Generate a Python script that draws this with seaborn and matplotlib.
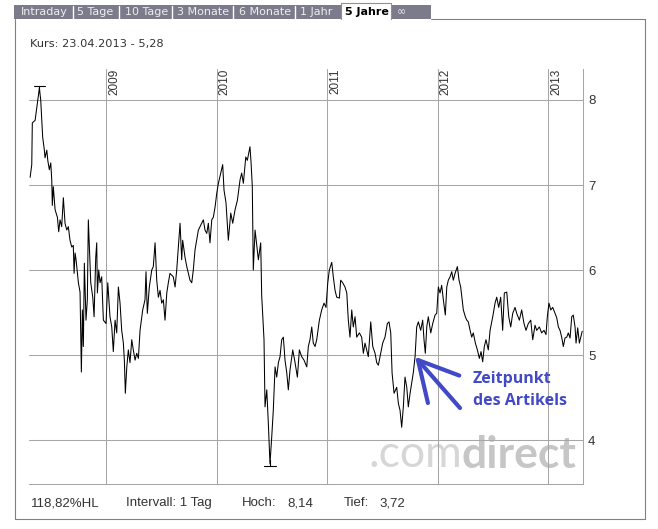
import numpy as np
import pandas as pd
import matplotlib
matplotlib.use('Agg')
import matplotlib.pyplot as plt
import matplotlib.transforms as mtransforms
import seaborn as sns
from matplotlib.lines import Line2D
from matplotlib.patches import Rectangle

# -----------------------------------------------------------
# Kursdaten (Zeit als Dezimaljahr, Kurs in EUR)
zeit = [
    2008.310, 2008.325, 2008.330, 2008.355, 2008.376, 2008.394, 2008.406, 2008.415, 2008.424, 2008.439,
    2008.445, 2008.461, 2008.470, 2008.484, 2008.497, 2008.506, 2008.511, 2008.520, 2008.536, 2008.557,
    2008.569, 2008.581, 2008.596, 2008.611, 2008.626, 2008.642, 2008.656, 2008.671, 2008.687, 2008.701,
    2008.708, 2008.717, 2008.726, 2008.747, 2008.762, 2008.774, 2008.783, 2008.792, 2008.801, 2008.816,
    2008.828, 2008.837, 2008.859, 2008.877, 2008.889, 2008.904, 2008.913, 2008.919, 2008.931, 2008.943,
    2008.958, 2008.973, 2008.997, 2009.013, 2009.033, 2009.049, 2009.063, 2009.079, 2009.094, 2009.109,
    2009.124, 2009.139, 2009.154, 2009.163, 2009.172, 2009.185, 2009.199, 2009.214, 2009.230, 2009.244,
    2009.260, 2009.275, 2009.290, 2009.305, 2009.329, 2009.350, 2009.359, 2009.371, 2009.389, 2009.411,
    2009.425, 2009.441, 2009.456, 2009.471, 2009.486, 2009.501, 2009.516, 2009.531, 2009.547, 2009.561,
    2009.576, 2009.606, 2009.622, 2009.637, 2009.667, 2009.682, 2009.691, 2009.712, 2009.728, 2009.757,
    2009.773, 2009.787, 2009.803, 2009.833, 2009.863, 2009.878, 2009.893, 2009.909, 2009.923, 2009.938,
    2009.954, 2009.968, 2009.984, 2009.999, 2010.014, 2010.035, 2010.053, 2010.065, 2010.083, 2010.104,
    2010.126, 2010.144, 2010.165, 2010.186, 2010.210, 2010.225, 2010.240, 2010.262, 2010.276, 2010.300,
    2010.310, 2010.321, 2010.330, 2010.346, 2010.376, 2010.397, 2010.406, 2010.421, 2010.427, 2010.436,
    2010.452, 2010.466, 2010.481, 2010.497, 2010.511, 2010.527, 2010.542, 2010.557, 2010.572, 2010.587,
    2010.602, 2010.617, 2010.633, 2010.647, 2010.662, 2010.687, 2010.708, 2010.729, 2010.747, 2010.768,
    2010.789, 2010.814, 2010.828, 2010.843, 2010.859, 2010.873, 2010.889, 2010.904, 2010.928, 2010.949,
    2010.970, 2010.988, 2011.004, 2011.018, 2011.040, 2011.054, 2011.070, 2011.085, 2011.109, 2011.121,
    2011.139, 2011.160, 2011.176, 2011.190, 2011.205, 2011.221, 2011.235, 2011.251, 2011.266, 2011.290,
    2011.311, 2011.326, 2011.341, 2011.371, 2011.393, 2011.411, 2011.432, 2011.447, 2011.462, 2011.477,
    2011.501, 2011.522, 2011.543, 2011.558, 2011.574, 2011.586, 2011.604, 2011.628, 2011.643, 2011.658,
    2011.673, 2011.688, 2011.703, 2011.719, 2011.733, 2011.749, 2011.764, 2011.778, 2011.794, 2011.809,
    2011.824, 2011.845, 2011.863, 2011.875, 2011.887, 2011.900, 2011.914, 2011.936, 2011.954, 2011.975,
    2011.990, 2012.005, 2012.020, 2012.035, 2012.050, 2012.068, 2012.081, 2012.095, 2012.111, 2012.126,
    2012.140, 2012.156, 2012.177, 2012.192, 2012.207, 2012.231, 2012.249, 2012.262, 2012.276, 2012.292,
    2012.307, 2012.321, 2012.340, 2012.358, 2012.376, 2012.391, 2012.406, 2012.421, 2012.436, 2012.457,
    2012.473, 2012.497, 2012.518, 2012.533, 2012.551, 2012.569, 2012.587, 2012.602, 2012.624, 2012.642,
    2012.660, 2012.678, 2012.699, 2012.714, 2012.738, 2012.759, 2012.780, 2012.798, 2012.819, 2012.841,
    2012.859, 2012.880, 2012.895, 2012.919, 2012.940, 2012.961, 2012.979, 2012.991, 2013.006, 2013.022,
    2013.040, 2013.061, 2013.076, 2013.091, 2013.106, 2013.121, 2013.136, 2013.151, 2013.167, 2013.181,
    2013.197, 2013.212, 2013.226, 2013.242, 2013.251, 2013.266, 2013.281, 2013.307,
]

kurs = [
    7.09, 7.24, 7.73, 7.76, 7.96, 8.14, 8.00, 7.79, 7.56, 7.41,
    7.32, 7.41, 7.29, 7.18, 7.26, 7.06, 6.76, 6.98, 6.71, 6.62,
    6.45, 6.59, 6.51, 6.85, 6.55, 6.47, 6.51, 6.35, 6.27, 6.29,
    5.96, 6.20, 6.12, 5.85, 5.74, 4.80, 5.53, 5.10, 6.08, 5.41,
    5.65, 6.59, 5.85, 5.68, 5.45, 6.15, 6.32, 5.73, 6.00, 5.85,
    5.92, 5.41, 5.37, 5.85, 5.45, 5.33, 5.04, 5.41, 5.26, 5.80,
    5.61, 5.29, 5.14, 4.94, 4.55, 4.86, 5.06, 4.91, 5.18, 5.06,
    4.94, 5.02, 4.96, 5.29, 5.53, 5.65, 5.98, 5.49, 5.80, 6.00,
    6.04, 6.32, 5.88, 5.68, 5.76, 5.61, 5.65, 5.41, 5.73, 5.85,
    5.96, 5.92, 5.80, 6.00, 6.55, 6.12, 6.35, 6.15, 6.04, 5.88,
    5.85, 6.00, 6.24, 6.47, 6.55, 6.59, 6.47, 6.43, 6.55, 6.32,
    6.59, 6.62, 6.74, 6.90, 7.02, 7.14, 7.24, 6.94, 6.79, 6.35,
    6.67, 6.55, 6.71, 6.82, 7.06, 7.14, 7.02, 7.33, 7.29, 7.45,
    7.26, 6.98, 6.00, 6.47, 6.12, 6.32, 5.70, 5.33, 5.18, 4.39,
    4.59, 4.20, 3.72, 4.04, 4.35, 4.86, 4.74, 4.91, 4.98, 5.18,
    5.21, 4.94, 4.79, 4.59, 4.82, 5.06, 4.91, 4.74, 5.06, 4.98,
    4.94, 4.86, 5.10, 5.18, 5.33, 5.14, 5.10, 5.18, 5.41, 5.53,
    5.61, 5.56, 5.85, 6.00, 6.09, 5.92, 5.76, 5.68, 5.67, 5.88,
    5.85, 5.80, 5.73, 5.41, 5.21, 5.53, 5.33, 5.45, 5.21, 5.26,
    5.21, 5.02, 5.14, 4.98, 5.39, 5.10, 5.02, 4.91, 4.88, 4.98,
    5.14, 5.21, 5.37, 5.39, 5.26, 4.79, 4.55, 4.62, 4.43, 4.35,
    4.15, 4.39, 4.74, 4.62, 4.39, 4.55, 4.67, 4.79, 4.98, 5.33,
    5.39, 5.29, 5.41, 5.18, 5.02, 5.33, 5.45, 5.26, 5.37, 5.47,
    5.49, 5.80, 5.73, 5.82, 5.65, 5.47, 5.80, 5.88, 5.92, 5.98,
    5.88, 5.96, 6.04, 5.88, 5.80, 5.53, 5.45, 5.41, 5.39, 5.29,
    5.21, 5.26, 5.14, 5.06, 4.96, 5.04, 4.92, 5.10, 5.18, 5.06,
    5.29, 5.45, 5.61, 5.68, 5.56, 5.68, 5.29, 5.73, 5.74, 5.45,
    5.33, 5.49, 5.56, 5.49, 5.41, 5.53, 5.37, 5.29, 5.37, 5.41,
    5.18, 5.35, 5.29, 5.33, 5.26, 5.29, 5.24, 5.45, 5.61, 5.53,
    5.56, 5.49, 5.44, 5.33, 5.29, 5.21, 5.10, 5.20, 5.21, 5.26,
    5.20, 5.45, 5.47, 5.33, 5.14, 5.32, 5.14, 5.28,
]

jahre = [2009, 2010, 2011, 2012, 2013]
kurs_ticks = [4, 5, 6, 7, 8]
tabs = ['Intraday', '5 Tage', '10 Tage', '3 Monate', '6 Monate', '1 Jahr', '5 Jahre', '\u221e']
aktiver_tab = '5 Jahre'
datum_letzter_kurs = '23.04.2013'
artikel_datum = 2011.794
# -----------------------------------------------------------

W, H = 658, 529
grau = '#a6a6a6'
blau = '#4149c6'
text_farbe = '#333333'


def fx(x):
    return x / W


def fy(y):
    return 1 - y / H


def de(v):
    return f'{v:.2f}'.replace('.', ',')


df = pd.DataFrame({'Zeit': zeit, 'Kurs': kurs})

sns.set_style('white')
plt.rcParams['font.family'] = ['Liberation Sans', 'DejaVu Sans']

fig = plt.figure(figsize=(W / 100, H / 100), dpi=100)
ax = fig.add_axes([fx(29), fy(484), fx(583) - fx(29), fy(69) - fy(484)])

sns.lineplot(data=df, x='Zeit', y='Kurs', ax=ax, color='black', linewidth=0.75,
             errorbar=None, zorder=3)

ax.set_xlim(2008.300, 2013.314)
ax.set_ylim(3.4824, 8.3647)
ax.set_xticks(jahre)
ax.set_yticks(kurs_ticks)
ax.set_yticklabels([str(t) for t in kurs_ticks])
ax.grid(True, color=grau, linewidth=0.75)
ax.set_axisbelow('line')
ax.set_xlabel('')
ax.set_ylabel('')
ax.yaxis.tick_right()
ax.tick_params(axis='x', length=0, labelbottom=False)
ax.tick_params(axis='y', length=0, pad=3.6, labelsize=9.5, labelcolor=text_farbe)
for s in ['left', 'top']:
    ax.spines[s].set_visible(False)
for s in ['right', 'bottom']:
    ax.spines[s].set_color(grau)
    ax.spines[s].set_linewidth(0.75)

# Jahreszahlen oben an den Gitterlinien
trans = mtransforms.blended_transform_factory(ax.transData, ax.transAxes)
trans = mtransforms.offset_copy(trans, fig=fig, x=2, y=0, units='dots')
for j in jahre:
    ax.text(j, 1, str(j), transform=trans, rotation=90, ha='left', va='top',
            fontsize=8.5, color=text_farbe)

# Hoch / Tief Markierungen
i_max, i_min = df['Kurs'].idxmax(), df['Kurs'].idxmin()
t_hoch, k_hoch = df['Zeit'][i_max], df['Kurs'][i_max]
t_tief, k_tief = df['Zeit'][i_min], df['Kurs'][i_min]
ax.plot([t_hoch - 0.05, t_hoch + 0.05], [k_hoch + 0.02, k_hoch + 0.02], color='black', lw=0.8)
ax.plot([t_hoch, t_hoch], [k_hoch - 0.05, k_hoch + 0.02], color='black', lw=0.8)
ax.plot([t_tief - 0.05, t_tief + 0.05], [k_tief - 0.02, k_tief - 0.02], color='black', lw=0.8)
ax.plot([t_tief, t_tief], [k_tief + 0.05, k_tief - 0.02], color='black', lw=0.8)

# Wasserzeichen
wz = ax.text(0.612, 0.041, '.com', transform=ax.transAxes, fontsize=32, family='Lato',
             color='#d6d6d6', va='baseline', ha='left', zorder=1)
ax.annotate('direct', xy=(1, 0), xycoords=wz, fontsize=32, family='Lato',
            weight='bold', color='#c6c6c6', va='bottom', ha='left', zorder=1)

# Pfeil + Hinweis
ax.annotate('', xy=(artikel_datum, np.interp(artikel_datum, zeit, kurs)), xycoords='data',
            xytext=(460, H - 408), textcoords='figure pixels',
            arrowprops=dict(arrowstyle='->,head_length=2.8,head_width=1.5', color=blau,
                            lw=3, shrinkA=0, shrinkB=0), zorder=4)
fig.text(fx(473), fy(383), 'Zeitpunkt', family='Open Sans', weight='bold',
         fontsize=11.5, color=blau, va='baseline')
fig.text(fx(473), fy(405), 'des Artikels', family='Open Sans', weight='bold',
         fontsize=11.5, color=blau, va='baseline')

# Reiter oben
fig.add_artist(Rectangle((fx(14), fy(19)), fx(431) - fx(14), fy(5.5) - fy(19),
                         transform=fig.transFigure, facecolor='#7b7b8b', edgecolor='none'))
tab_x = [21, 77, 125, 177, 239, 300, 345, 397]
for sx in [73, 119, 172, 233, 295]:
    fig.add_artist(Line2D([fx(sx), fx(sx)], [fy(6), fy(19)], color='white', lw=1))
fig.add_artist(Rectangle((fx(341), fy(19)), fx(391) - fx(341), fy(3) - fy(19),
                         transform=fig.transFigure, facecolor='white', edgecolor='none'))
fig.add_artist(Line2D([fx(341), fx(341), fx(391), fx(391)], [fy(19), fy(3), fy(3), fy(19)],
                      color='#909090', lw=0.8))
for name, x in zip(tabs, tab_x):
    aktiv = name == aktiver_tab
    fig.text(fx(x), fy(12.3), name, family='DejaVu Sans', fontsize=8, va='center',
             weight='bold' if aktiv else 'normal',
             color='black' if aktiv else '#eeeeee')

# Rahmen
rahmen = dict(color='#808080', lw=0.8)
fig.add_artist(Line2D([fx(14.5), fx(14.5)], [fy(19), fy(519)], **rahmen))
fig.add_artist(Line2D([fx(14.5), fx(645)], [fy(519), fy(519)], **rahmen))
fig.add_artist(Line2D([fx(645), fx(645)], [fy(19), fy(519)], **rahmen))
fig.add_artist(Line2D([fx(431), fx(645)], [fy(19), fy(19)], **rahmen))

# Kopfzeile
fig.text(fx(30), fy(44), f'Kurs: {datum_letzter_kurs} - {de(kurs[-1])}', family='DejaVu Sans',
         fontsize=8.2, color=text_farbe, va='center')

# Fusszeile
hl = (k_hoch - k_tief) / k_tief * 100
fuss = dict(fontsize=9.5, color=text_farbe, va='center')
fig.text(fx(30.5), fy(503), f'{de(hl)}%HL', **fuss)
fig.text(fx(126), fy(503), 'Intervall: 1 Tag', **fuss)
fig.text(fx(242), fy(503), 'Hoch:', **fuss)
fig.text(fx(287), fy(503), de(k_hoch), **fuss)
fig.text(fx(344), fy(503), 'Tief:', **fuss)
fig.text(fx(379), fy(503), de(k_tief), **fuss)

fig.savefig('out.png', dpi=100)
